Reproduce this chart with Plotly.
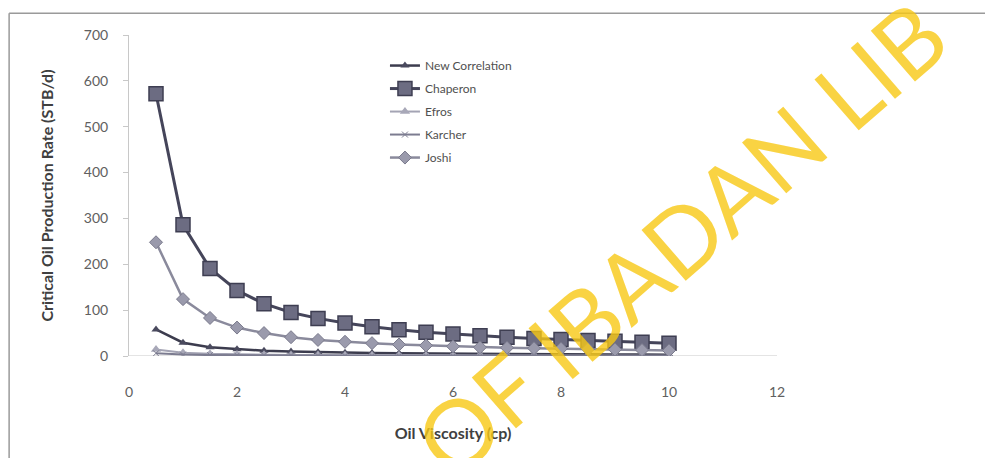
import plotly.graph_objects as go

viscosity = [0.5, 1.0, 1.5, 2.0, 2.5, 3.0, 3.5, 4.0, 4.5, 5.0,
             5.5, 6.0, 6.5, 7.0, 7.5, 8.0, 8.5, 9.0, 9.5, 10.0]
new_correlation = [58, 29, 19, 14.5, 11.6, 9.7, 8.3, 7.3, 6.5, 5.8,
                   5.3, 4.8, 4.5, 4.1, 3.9, 3.6, 3.4, 3.2, 3.1, 2.9]
chaperon = [572, 286, 191, 143, 114, 95, 82, 72, 64, 57,
            52, 48, 44, 41, 38, 36, 34, 32, 30, 28]
efros = [14, 7, 4.7, 3.5, 2.8, 2.3, 2.0, 1.8, 1.6, 1.4,
         1.3, 1.2, 1.1, 1.0, 0.9, 0.9, 0.8, 0.8, 0.7, 0.7]
karcher = [6, 3, 2, 1.5, 1.2, 1.0, 0.9, 0.8, 0.7, 0.6,
           0.55, 0.5, 0.46, 0.43, 0.4, 0.38, 0.35, 0.33, 0.32, 0.3]
joshi = [248, 124, 83, 62, 50, 41, 35, 31, 28, 25,
         23, 21, 19, 18, 17, 16, 15, 14, 13, 12]

x_ticks = [0, 2, 4, 6, 8, 10, 12]
y_ticks = [0, 100, 200, 300, 400, 500, 600, 700]

FONT = "Lato, 'Open Sans', sans-serif"

fig = go.Figure()
fig.add_trace(go.Scatter(
    x=viscosity, y=new_correlation, name="New Correlation", mode="lines+markers",
    legendgroup="a",
    line=dict(color="#3c3c4e", width=2.5),
    marker=dict(symbol="triangle-up", size=8, color="#4a4a5e")))
fig.add_trace(go.Scatter(
    x=viscosity, y=chaperon, name="Chaperon", mode="lines+markers",
    legendgroup="b",
    line=dict(color="#45455a", width=3),
    marker=dict(symbol="square", size=14, color="#6c6c82",
                line=dict(color="#3e3e52", width=1.5))))
fig.add_trace(go.Scatter(
    x=viscosity, y=efros, name="Efros", mode="lines+markers",
    legendgroup="c",
    line=dict(color="#a4a4b4", width=2),
    marker=dict(symbol="triangle-up", size=9, color="#a8a8b8")))
fig.add_trace(go.Scatter(
    x=viscosity, y=karcher, name="Karcher", mode="lines+markers",
    legendgroup="d",
    line=dict(color="#7c7c90", width=2),
    marker=dict(symbol="x-thin", size=6, color="#7c7c90",
                line=dict(color="#7c7c90", width=1))))
fig.add_trace(go.Scatter(
    x=viscosity, y=joshi, name="Joshi", mode="lines+markers",
    legendgroup="e",
    line=dict(color="#8a8a9c", width=2.5),
    marker=dict(symbol="diamond", size=10, color="#9a9aac",
                line=dict(color="#7a7a8c", width=1))))

fig.update_layout(
    width=985, height=450,
    margin=dict(l=121, r=216, t=27, b=102, autoexpand=False),
    paper_bgcolor="white", plot_bgcolor="white",
    font=dict(family=FONT, color="#505050"),
    showlegend=True,
    legend=dict(x=0.395, y=0.95, xanchor="left", yanchor="top",
                bgcolor="rgba(0,0,0,0)", font=dict(size=12, color="#505050", family=FONT),
                tracegroupgap=4),
    xaxis=dict(range=[0, 12], tickvals=x_ticks, ticktext=[str(v) for v in x_ticks],
               automargin=False,
               showgrid=False, zeroline=False, showline=False,
               ticks="", ticklabelstandoff=26,
               tickfont=dict(size=14, color="#606060"),
               title=dict(text="Oil Viscosity (cp)",
                          font=dict(size=16, color="#404040", weight="bold"),
                          standoff=28)),
    yaxis=dict(range=[0, 700], tickvals=y_ticks, ticktext=[str(v) for v in y_ticks],
               automargin=False,
               showgrid=False, zeroline=False, showline=True, linecolor="#c8c8c8", linewidth=1,
               ticks="outside", ticklen=5, tickcolor="#c8c8c8", ticklabelstandoff=12,
               tickfont=dict(size=14, color="#606060"),
               title=dict(text="Critical Oil Production Rate (STB/d)",
                          font=dict(size=16, color="#404040", weight="bold"), standoff=26)),
    shapes=[
        dict(type="line", xref="paper", yref="y", x0=0, x1=1, y0=0, y1=0,
             line=dict(color="#c8c8c8", width=1), layer="below"),
        dict(type="line", xref="paper", yref="paper", x0=-0.185, x1=1.33, y0=1.068, y1=1.068,
             line=dict(color="#9a9a9a", width=1.5)),
        dict(type="line", xref="paper", yref="paper", x0=-0.185, x1=-0.185, y0=1.068, y1=-0.32,
             line=dict(color="#9a9a9a", width=1.5)),
    ],
    annotations=[
        dict(text="OF IBADAN LIB", xref="paper", yref="paper",
             x=0.85, y=0.37, xanchor="center", yanchor="middle", showarrow=False,
             textangle=-41, font=dict(size=94, color="rgba(248,200,20,0.8)",
                                      family=FONT, weight=400))
    ],
)

fig.write_html("out.html")
